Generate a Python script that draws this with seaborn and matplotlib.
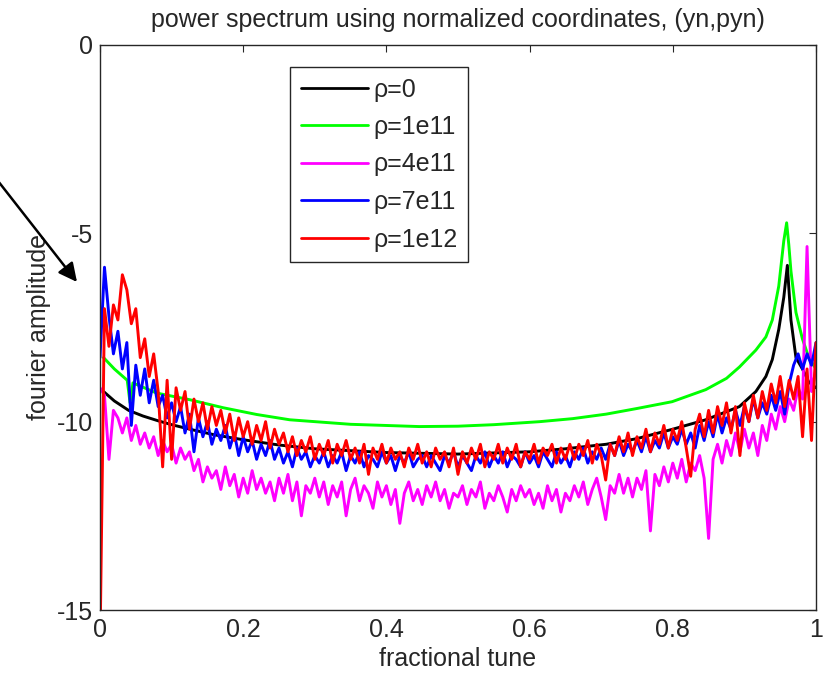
import numpy as np
import pandas as pd
import matplotlib
matplotlib.use("Agg")
import matplotlib.pyplot as plt
import seaborn as sns
from matplotlib.lines import Line2D

# ---------------- data ----------------
labels = ["ρ=0", "ρ=1e11", "ρ=4e11", "ρ=7e11", "ρ=1e12"]
colors = ["#000000", "#00ff00", "#ff00ff", "#0000ff", "#ff0000"]

# smooth curves (rho = 0 and rho = 1e11)
tune_black = [0.005, 0.02, 0.04, 0.06, 0.08, 0.10, 0.13, 0.16, 0.20, 0.25, 0.30, 0.40,
              0.50, 0.60, 0.65, 0.707, 0.75, 0.80, 0.846, 0.893, 0.916, 0.93, 0.939,
              0.948, 0.955, 0.960, 0.965, 0.972, 0.981, 0.99, 1.0]
amp_black = [-9.2, -9.45, -9.7, -9.85, -9.97, -10.08, -10.22, -10.35, -10.48, -10.62, -10.72, -10.82,
             -10.86, -10.8, -10.72, -10.6, -10.45, -10.2, -9.95, -9.6, -9.2, -8.8, -8.35,
             -7.55, -6.7, -5.85, -7.3, -8.3, -8.6, -8.95, -9.1]

tune_green = [0.005, 0.02, 0.038, 0.042, 0.046, 0.079, 0.126, 0.172, 0.219, 0.265, 0.35, 0.446,
              0.50, 0.55, 0.614, 0.66, 0.707, 0.75, 0.799, 0.846, 0.875, 0.893, 0.916, 0.93,
              0.939, 0.948, 0.955, 0.959, 0.962, 0.965, 0.972, 0.981, 0.99, 1.0]
amp_green = [-8.3, -8.6, -8.9, -9.5, -8.97, -9.24, -9.42, -9.63, -9.81, -9.95, -10.07, -10.13,
             -10.12, -10.08, -10.0, -9.92, -9.8, -9.65, -9.47, -9.15, -8.85, -8.55, -8.1, -7.75,
             -7.3, -6.4, -5.2, -4.72, -5.3, -6.0, -7.1, -7.8, -8.3, -8.6]

# noisy curves, sampled on a regular tune grid of 161 points (0 .. 1)
tune_grid = np.linspace(0.0, 1.0, 161)

amp_magenta = [
    -9.1, -9.3, -11.0, -9.7, -9.9, -10.3, -9.9, -10.5, -10.1, -10.6,
    -10.3, -10.7, -10.4, -10.9, -10.5, -10.8, -10.6, -11.1, -10.7, -11.0,
    -10.8, -11.3, -11.0, -11.6, -11.2, -11.5, -11.3, -11.8, -11.2, -11.7,
    -11.4, -12.0, -11.5, -11.9, -11.3, -11.8, -11.5, -11.9, -11.6, -12.1,
    -11.5, -11.9, -11.4, -12.1, -11.6, -12.5, -11.7, -11.9, -11.5, -12.0,
    -11.6, -12.2, -11.7, -12.0, -11.6, -12.5, -11.8, -11.5, -12.1, -11.7,
    -11.9, -12.3, -11.6, -12.0, -11.7, -12.2, -11.8, -12.7, -11.9, -11.6,
    -12.1, -11.8, -12.2, -11.7, -12.0, -11.6, -12.1, -11.8, -12.3, -11.9,
    -12.0, -11.7, -12.2, -11.8, -12.0, -11.6, -12.3, -11.9, -12.1, -11.7,
    -12.0, -12.4, -11.8, -12.1, -11.7, -12.0, -11.8, -12.2, -11.9, -12.3,
    -11.7, -12.1, -11.8, -12.4, -11.9, -12.1, -11.7, -12.0, -11.6, -12.2,
    -11.8, -11.5, -12.0, -12.6, -11.7, -11.9, -11.4, -11.9, -11.5, -12.0,
    -11.5, -11.8, -11.3, -12.9, -11.4, -11.7, -11.2, -11.6, -11.1, -11.5,
    -11.0, -11.6, -11.1, -11.3, -10.9, -11.5, -13.1, -11.0, -10.6, -11.1,
    -10.5, -10.9, -10.3, -10.8, -10.2, -10.7, -10.3, -10.9, -10.1, -10.5,
    -9.8, -10.2, -9.6, -10.0, -9.4, -9.7, -9.1, -9.4, -5.35, -9.2,
    -8.6]

amp_blue = [
    -8.3, -5.9, -7.2, -8.2, -7.6, -8.6, -7.9, -10.1, -8.5, -9.3,
    -8.6, -9.5, -8.9, -9.6, -9.3, -9.9, -9.5, -10.0, -9.6, -10.3,
    -9.8, -10.8, -9.9, -10.4, -10.0, -10.6, -10.2, -10.5, -10.1, -10.7,
    -10.3, -10.9, -10.4, -10.8, -10.5, -11.0, -10.6, -10.9, -10.5, -11.0,
    -10.7, -11.1, -10.8, -11.2, -10.7, -11.0, -10.8, -11.2, -10.9, -11.1,
    -10.8, -11.2, -10.9, -11.1, -10.8, -11.3, -10.9, -11.1, -10.8, -11.2,
    -10.9, -11.0, -11.2, -10.8, -11.1, -10.9, -11.3, -10.9, -11.1, -10.8,
    -11.2, -11.0, -10.9, -11.2, -10.9, -11.1, -11.3, -10.9, -11.1, -10.8,
    -11.2, -10.9, -11.1, -11.3, -10.9, -11.1, -10.8, -11.2, -10.9, -11.1,
    -10.8, -11.2, -10.9, -11.0, -11.2, -10.8, -11.1, -10.9, -11.2, -10.8,
    -11.0, -11.2, -10.8, -11.1, -10.9, -11.2, -10.8, -11.0, -10.7, -11.1,
    -10.8, -11.0, -10.7, -11.0, -10.6, -10.9, -10.5, -10.9, -10.6, -10.8,
    -10.5, -10.8, -10.4, -10.8, -10.5, -10.7, -10.3, -10.7, -10.4, -10.6,
    -10.2, -10.6, -10.3, -10.7, -10.1, -10.5, -10.0, -10.4, -9.8, -10.3,
    -9.9, -10.2, -9.7, -10.1, -9.6, -10.0, -9.4, -9.9, -9.5, -9.8,
    -9.3, -9.7, -9.2, -9.8, -9.0, -8.5, -8.2, -8.6, -8.2, -8.5,
    -7.9]

amp_red = [
    -16.0, -7.0, -8.0, -6.9, -7.3, -6.1, -6.5, -7.4, -7.0, -8.3,
    -7.8, -8.8, -8.2, -9.2, -11.2, -8.9, -11.0, -9.1, -9.7, -9.2,
    -10.2, -9.4, -10.0, -9.5, -10.2, -9.6, -10.1, -9.7, -10.3, -9.8,
    -10.5, -9.9, -10.4, -10.0, -10.6, -10.1, -10.5, -10.0, -10.7, -10.2,
    -10.6, -10.3, -10.8, -10.4, -10.9, -10.5, -10.8, -10.4, -11.0, -10.6,
    -10.9, -10.5, -11.1, -10.6, -10.9, -10.5, -11.0, -10.7, -11.1, -10.6,
    -11.4, -10.7, -11.0, -10.6, -11.1, -10.7, -11.0, -10.8, -11.2, -10.7,
    -11.0, -10.6, -11.1, -10.8, -11.2, -10.7, -11.0, -10.8, -11.2, -10.7,
    -11.4, -10.8, -11.1, -10.7, -11.0, -10.6, -11.2, -10.8, -11.0, -10.6,
    -11.1, -10.7, -11.0, -10.6, -11.2, -10.8, -11.0, -10.6, -11.1, -10.7,
    -10.9, -10.6, -11.1, -10.7, -11.0, -10.6, -11.0, -10.6, -10.9, -10.5,
    -11.1, -10.6, -10.9, -11.55, -10.6, -10.9, -10.4, -10.8, -10.3, -10.9,
    -10.4, -10.7, -10.2, -10.8, -10.3, -10.6, -10.1, -10.7, -10.2, -10.5,
    -10.0, -10.7, -11.45, -10.2, -9.8, -10.4, -9.7, -10.3, -9.6, -10.1,
    -9.5, -10.3, -9.6, -10.9, -9.5, -10.0, -9.3, -9.9, -9.2, -9.7,
    -9.0, -9.5, -8.8, -9.6, -8.9, -9.4, -8.8, -10.4, -8.6, -10.5,
    -7.9]

x_ticks = [0, 0.2, 0.4, 0.6, 0.8, 1]
x_ticklabels = ["0", "0.2", "0.4", "0.6", "0.8", "1"]
y_ticks = [-15, -10, -5, 0]
y_ticklabels = ["-15", "-10", "-5", "0"]

# ---------------- long-form table ----------------
frames = [
    pd.DataFrame({"tune": tune_black, "amp": amp_black, "series": labels[0]}),
    pd.DataFrame({"tune": tune_green, "amp": amp_green, "series": labels[1]}),
    pd.DataFrame({"tune": tune_grid, "amp": amp_magenta, "series": labels[2]}),
    pd.DataFrame({"tune": tune_grid, "amp": amp_blue, "series": labels[3]}),
    pd.DataFrame({"tune": tune_grid, "amp": amp_red, "series": labels[4]}),
]
df = pd.concat(frames, ignore_index=True)

# ---------------- plot ----------------
sns.set_style("white")
plt.rcParams["font.family"] = ["Liberation Sans", "DejaVu Sans"]

fig = plt.figure(figsize=(8.25, 6.76), dpi=100)
ax = fig.add_axes([100 / 825, 1 - 610 / 676, 716 / 825, 565 / 676])

sns.lineplot(data=df, x="tune", y="amp", hue="series", hue_order=labels,
             palette=dict(zip(labels, colors)), estimator=None, sort=False,
             linewidth=2.1, ax=ax, legend=False)

txt = "#262626"
ax.set_xlim(0, 1)
ax.set_ylim(-15, 0)
ax.set_xticks(x_ticks)
ax.set_xticklabels(x_ticklabels)
ax.set_yticks(y_ticks)
ax.set_yticklabels(y_ticklabels)
ax.tick_params(direction="in", length=5, width=0.8, top=True, right=True,
               labelsize=18, colors=txt)
ax.tick_params(axis="x", pad=6)
ax.tick_params(axis="y", pad=5)
for s in ax.spines.values():
    s.set_visible(True)
    s.set_color(txt)
    s.set_linewidth(1.0)

ax.set_title("power spectrum using normalized coordinates, (yn,pyn)", fontsize=18,
             color=txt, pad=13)
ax.set_xlabel("fractional tune", fontsize=18, color=txt, labelpad=3)
ax.set_ylabel("fourier amplitude", fontsize=18, color=txt, labelpad=4)

# legend
handles = [Line2D([], [], color=c, lw=2.0) for c in colors]
leg = ax.legend(handles, labels, loc="upper left",
                bbox_to_anchor=(290 / 825, 1 - 67 / 676), bbox_transform=fig.transFigure,
                borderaxespad=0, fontsize=18, frameon=True, fancybox=False,
                framealpha=1, edgecolor=txt, handlelength=2.7,
                handletextpad=0.2, labelspacing=0.54, borderpad=0.42)
leg.get_frame().set_linewidth(1.0)
for t in leg.get_texts():
    t.set_color(txt)

# pointer arrow at the left
ax.annotate("", xy=(77 / 825, 1 - 282 / 676), xycoords="figure fraction",
            xytext=(-2 / 825, 1 - 181 / 676), textcoords="figure fraction",
            arrowprops=dict(arrowstyle="-|>", color="black", lw=1.8,
                            mutation_scale=28, shrinkA=0, shrinkB=0),
            annotation_clip=False)

fig.savefig("out.png", dpi=100)
